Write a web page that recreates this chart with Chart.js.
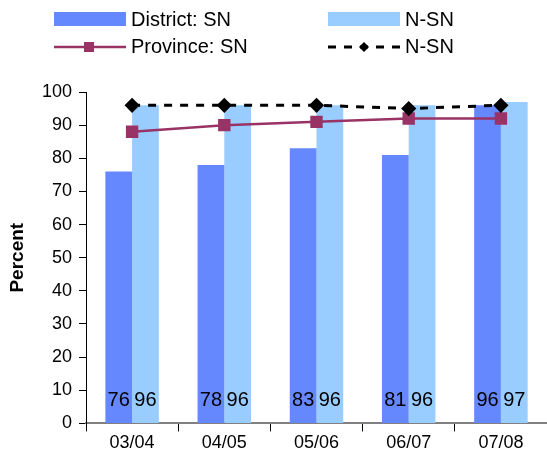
<!DOCTYPE html>
<html>
<head>
<meta charset="utf-8">
<script src="https://cdn.jsdelivr.net/npm/chart.js@4/dist/chart.umd.min.js"></script>
<style>
html,body{margin:0;padding:0;background:#fff;}
#wrap{width:547px;height:461px;position:relative;}
</style>
</head>
<body>
<div id="wrap"><canvas id="c" width="547" height="461"></canvas></div>
<script>
const categories = ["03/04", "04/05", "05/06", "06/07", "07/08"];
const districtSN = [76, 78, 83, 81, 96];
const districtNSN = [96, 96, 96, 96, 97];
const provinceSN = [88, 90, 91, 92, 92];
const provinceNSN = [96, 96, 96, 95, 96];
const yTicks = [0, 10, 20, 30, 40, 50, 60, 70, 80, 90, 100];

const FONT = "'Liberation Sans', Arial, sans-serif";
const C_DIST = "#6688FF";
const C_NSN = "#99CCFF";
const C_PROV = "#993366";

const legendPlugin = {
  id: 'customLegend',
  afterDraw(chart) {
    const ctx = chart.ctx;
    ctx.save();
    ctx.font = "20px " + FONT;
    ctx.fillStyle = "#000";
    ctx.textBaseline = "middle";
    ctx.textAlign = "left";
    // row 1
    ctx.fillStyle = C_DIST; ctx.fillRect(54, 12, 72, 14);
    ctx.fillStyle = C_NSN; ctx.fillRect(328, 12, 72, 14);
    ctx.fillStyle = "#000";
    ctx.fillText("District: SN", 131, 20);
    ctx.fillText("N-SN", 405, 20);
    // row 2
    ctx.strokeStyle = C_PROV; ctx.lineWidth = 2.5;
    ctx.beginPath(); ctx.moveTo(54, 47); ctx.lineTo(126, 47); ctx.stroke();
    ctx.fillStyle = C_PROV; ctx.fillRect(84, 42, 10, 10);
    ctx.strokeStyle = "#000"; ctx.lineWidth = 3; ctx.setLineDash([8, 8]);
    ctx.beginPath(); ctx.moveTo(328, 47); ctx.lineTo(400, 47); ctx.stroke();
    ctx.setLineDash([]);
    ctx.fillStyle = "#000";
    ctx.beginPath(); ctx.moveTo(364, 42); ctx.lineTo(369, 47); ctx.lineTo(364, 52); ctx.lineTo(359, 47); ctx.closePath(); ctx.fill();
    ctx.fillText("Province: SN", 131, 47);
    ctx.fillText("N-SN", 405, 47);
    ctx.restore();
  }
};

const valueLabels = {
  id: 'valueLabels',
  afterDatasetsDraw(chart) {
    const ctx = chart.ctx;
    const ys = chart.scales.y;
    ctx.save();
    ctx.font = "20px " + FONT;
    ctx.fillStyle = "#000";
    ctx.textAlign = "center";
    ctx.textBaseline = "middle";
    [0, 1].forEach(di => {
      const meta = chart.getDatasetMeta(di);
      const data = chart.data.datasets[di].data;
      meta.data.forEach((bar, i) => {
        ctx.fillText(String(data[i]), bar.x, ys.getPixelForValue(0) - 23);
      });
    });
    ctx.restore();
  }
};

new Chart(document.getElementById('c'), {
  type: 'bar',
  data: {
    labels: categories,
    datasets: [
      { label: 'District: SN', data: districtSN, backgroundColor: C_DIST, order: 2,
        categoryPercentage: 0.58, barPercentage: 1.0 },
      { label: 'N-SN', data: districtNSN, backgroundColor: C_NSN, order: 2,
        categoryPercentage: 0.58, barPercentage: 1.0 },
      { type: 'line', label: 'Province: SN', data: provinceSN, borderColor: C_PROV,
        backgroundColor: C_PROV, borderWidth: 2.5, pointStyle: 'rect', pointRadius: 7,
        pointHoverRadius: 7, order: 1, fill: false, tension: 0 },
      { type: 'line', label: 'N-SN', data: provinceNSN, borderColor: '#000',
        backgroundColor: '#000', borderWidth: 3, borderDash: [8, 8], pointStyle: 'rectRot',
        pointRadius: 5.5, pointHoverRadius: 5.5, order: 0, fill: false, tension: 0 }
    ]
  },
  options: {
    responsive: false,
    animation: false,
    devicePixelRatio: 1,
    layout: { autoPadding: false, padding: { top: 92, right: -3, bottom: 6, left: 0 } },
    plugins: { legend: { display: false }, tooltip: { enabled: false } },
    scales: {
      x: {
        offset: true,
        afterFit(scale) { scale.paddingLeft = 0; scale.paddingRight = 0; },
        grid: { offset: true, drawOnChartArea: false, drawTicks: true, tickLength: 8, color: '#000' },
        border: { color: '#808080', width: 2 },
        ticks: { font: { family: FONT, size: 18 }, color: '#000', padding: 1 }
      },
      y: {
        min: 0, max: 100,
        afterBuildTicks(scale) { scale.ticks = yTicks.map(v => ({ value: v })); },
        afterFit(scale) { scale.width = 86; },
        grid: { drawOnChartArea: false, tickLength: 7, color: '#000' },
        border: { color: '#000', width: 1 },
        ticks: { font: { family: FONT, size: 18 }, color: '#000', padding: 7 },
        title: { display: true, text: 'Percent', font: { family: FONT, size: 19, weight: 'bold' },
                 color: '#000', padding: { top: 6, bottom: 4 } }
      }
    }
  },
  plugins: [legendPlugin, valueLabels]
});
</script>
</body>
</html>
